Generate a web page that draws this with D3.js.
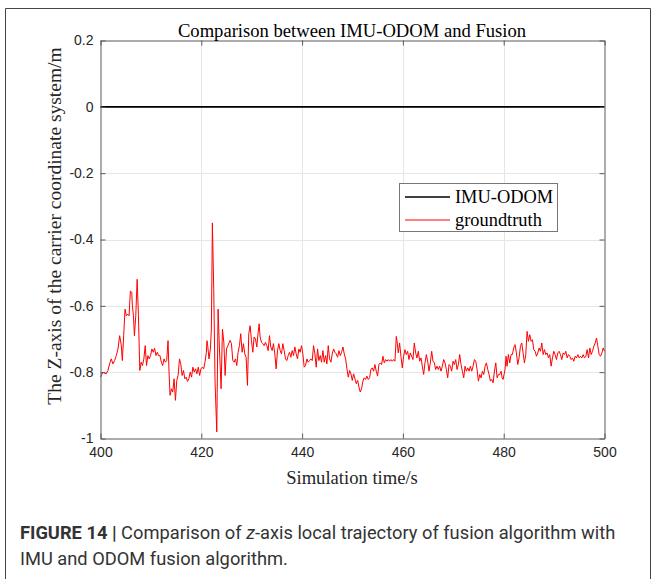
<!DOCTYPE html>
<html><head><meta charset="utf-8">
<script src="https://cdn.jsdelivr.net/npm/d3@7"></script>
<style>body{margin:0;background:#fff}svg{display:block}</style>
</head><body>
<svg id="c" width="656" height="579"></svg>
<script>
const xTicks = [400, 420, 440, 460, 480, 500];
const yTicks = [0.2, 0, -0.2, -0.4, -0.6, -0.8, -1];
const yTickLabels = ["0.2", "0", "-0.2", "-0.4", "-0.6", "-0.8", "-1"];
const seriesNames = ["IMU-ODOM", "groundtruth"];
const imuTime = [400, 500];
const imuValues = [0, 0];
const gtTime = [
400.0,400.47,401.13,401.47,401.8,402.13,402.47,402.8,403.13,403.47,403.8,404.13,404.33,404.6,404.87,405.13,405.4,405.67,405.93,406.2,406.33,406.53,406.73,407.0,407.27,407.53,407.8,408.07,408.33,408.6,408.87,409.13,409.4,409.67,409.93,410.2,410.47,410.73,411.0,411.27,411.53,411.8,412.07,412.33,412.6,412.87,413.13,413.4,413.6,413.8,414.07,414.33,414.6,414.87,415.13,415.4,415.67,415.93,416.2,416.47,416.73,417.0,417.27,417.53,417.8,418.07,418.33,418.6,418.87,419.13,419.4,419.67,419.93,420.2,420.47,420.73,421.0,421.13,421.27,421.53,421.8,422.0,422.2,422.47,422.73,423.07,423.33,423.6,423.93,424.2,424.47,424.73,425.0,425.27,425.72,425.98,426.25,426.51,426.78,427.04,427.3,427.57,427.83,428.1,428.36,428.63,428.89,429.16,429.42,429.69,429.95,430.22,430.48,430.75,431.01,431.28,431.48,431.67,431.94,432.2,432.47,432.73,433.0,433.26,433.53,433.79,434.06,434.32,434.59,434.85,435.12,435.38,435.65,435.91,436.18,436.44,436.71,436.97,437.24,437.5,437.77,438.03,438.3,438.56,438.83,439.09,439.36,439.62,439.89,440.15,440.42,440.68,440.95,441.21,441.48,441.74,442.01,442.27,442.54,442.8,443.07,443.33,443.6,443.86,444.13,444.39,444.66,444.92,445.19,445.45,445.72,445.98,446.25,446.51,446.78,447.04,447.31,447.57,447.84,448.1,448.37,448.63,448.9,449.16,449.43,449.69,449.96,450.22,450.49,450.75,451.02,451.28,451.54,451.8,452.07,452.33,452.6,452.86,453.13,453.39,453.65,453.92,454.18,454.45,454.71,454.98,455.24,455.51,455.77,456.04,456.3,456.57,456.83,457.1,457.36,457.63,457.89,458.16,458.42,458.69,458.88,459.08,459.35,459.61,459.88,460.14,460.41,460.67,460.94,461.2,461.47,461.73,462.0,462.26,462.53,462.79,463.06,463.32,463.59,463.85,464.12,464.38,464.65,464.91,465.18,465.44,465.71,465.97,466.24,466.5,466.77,467.03,467.3,467.56,467.83,468.09,468.36,468.62,468.89,469.15,469.42,469.68,469.95,470.21,470.48,470.74,471.01,471.27,471.54,471.8,472.07,472.33,472.6,472.86,473.13,473.39,473.66,473.92,474.19,474.45,474.72,474.98,475.25,475.51,475.78,476.04,476.31,476.57,476.84,477.1,477.37,477.63,477.9,478.16,478.43,478.69,478.96,479.21,479.48,479.68,479.88,480.07,480.27,480.47,480.67,480.93,481.2,481.46,481.73,481.99,482.26,482.52,482.79,483.05,483.32,483.58,483.85,484.11,484.38,484.64,484.91,485.17,485.44,485.7,485.97,486.23,486.5,486.76,487.03,487.29,487.56,487.82,488.09,488.35,488.61,488.88,489.14,489.41,489.67,489.94,490.2,490.47,490.73,491.0,491.26,491.53,491.79,492.06,492.32,492.59,492.85,493.12,493.38,493.65,493.91,494.18,494.44,494.71,494.97,495.24,495.5,495.77,496.03,496.3,496.56,496.83,497.09,497.36,497.62,497.89,498.15,498.42,498.68,498.95,499.21,499.48,499.74,500.0];
const gtValues = [
-0.815,-0.80,-0.805,-0.795,-0.775,-0.76,-0.775,-0.765,-0.75,-0.73,-0.69,-0.72,-0.765,-0.69,-0.61,-0.63,-0.625,-0.63,-0.555,-0.56,-0.60,-0.63,-0.69,-0.63,-0.52,-0.63,-0.795,-0.77,-0.78,-0.76,-0.72,-0.78,-0.75,-0.76,-0.75,-0.73,-0.74,-0.728,-0.75,-0.74,-0.75,-0.75,-0.77,-0.78,-0.76,-0.77,-0.765,-0.705,-0.80,-0.87,-0.85,-0.86,-0.82,-0.885,-0.825,-0.81,-0.76,-0.775,-0.81,-0.795,-0.82,-0.815,-0.828,-0.82,-0.80,-0.815,-0.785,-0.80,-0.79,-0.805,-0.785,-0.81,-0.79,-0.785,-0.79,-0.77,-0.74,-0.705,-0.72,-0.76,-0.73,-0.67,-0.35,-0.55,-0.83,-0.98,-0.61,-0.73,-0.85,-0.67,-0.71,-0.81,-0.73,-0.72,-0.704,-0.714,-0.765,-0.77,-0.76,-0.78,-0.74,-0.72,-0.684,-0.74,-0.714,-0.745,-0.755,-0.84,-0.684,-0.66,-0.704,-0.74,-0.694,-0.70,-0.724,-0.68,-0.654,-0.694,-0.71,-0.714,-0.72,-0.71,-0.72,-0.735,-0.69,-0.724,-0.735,-0.714,-0.745,-0.79,-0.735,-0.714,-0.735,-0.745,-0.714,-0.735,-0.76,-0.765,-0.75,-0.74,-0.755,-0.735,-0.75,-0.724,-0.745,-0.76,-0.73,-0.74,-0.72,-0.745,-0.785,-0.78,-0.76,-0.77,-0.765,-0.76,-0.765,-0.72,-0.745,-0.785,-0.73,-0.765,-0.75,-0.77,-0.735,-0.77,-0.75,-0.775,-0.72,-0.76,-0.77,-0.745,-0.73,-0.74,-0.745,-0.755,-0.735,-0.75,-0.74,-0.724,-0.745,-0.76,-0.79,-0.815,-0.795,-0.805,-0.825,-0.805,-0.82,-0.835,-0.825,-0.845,-0.86,-0.85,-0.827,-0.817,-0.822,-0.812,-0.822,-0.817,-0.792,-0.787,-0.797,-0.777,-0.797,-0.812,-0.777,-0.772,-0.777,-0.752,-0.772,-0.762,-0.767,-0.762,-0.767,-0.762,-0.767,-0.762,-0.767,-0.692,-0.712,-0.742,-0.712,-0.752,-0.787,-0.752,-0.732,-0.747,-0.737,-0.762,-0.742,-0.752,-0.762,-0.712,-0.742,-0.757,-0.737,-0.767,-0.757,-0.782,-0.807,-0.772,-0.747,-0.767,-0.797,-0.772,-0.737,-0.767,-0.772,-0.792,-0.782,-0.792,-0.782,-0.797,-0.782,-0.762,-0.772,-0.792,-0.817,-0.777,-0.782,-0.797,-0.767,-0.777,-0.762,-0.792,-0.777,-0.747,-0.777,-0.797,-0.817,-0.782,-0.797,-0.787,-0.797,-0.782,-0.797,-0.782,-0.762,-0.767,-0.792,-0.827,-0.807,-0.817,-0.797,-0.807,-0.782,-0.772,-0.792,-0.807,-0.827,-0.822,-0.832,-0.797,-0.772,-0.817,-0.807,-0.807,-0.797,-0.817,-0.822,-0.807,-0.792,-0.752,-0.782,-0.747,-0.772,-0.747,-0.747,-0.727,-0.717,-0.742,-0.777,-0.757,-0.722,-0.712,-0.742,-0.772,-0.747,-0.677,-0.707,-0.687,-0.707,-0.702,-0.732,-0.737,-0.752,-0.742,-0.727,-0.737,-0.712,-0.747,-0.732,-0.747,-0.742,-0.757,-0.747,-0.782,-0.757,-0.737,-0.747,-0.762,-0.742,-0.737,-0.747,-0.762,-0.742,-0.747,-0.737,-0.757,-0.747,-0.752,-0.762,-0.757,-0.767,-0.752,-0.757,-0.747,-0.757,-0.752,-0.757,-0.747,-0.757,-0.752,-0.732,-0.757,-0.727,-0.747,-0.737,-0.722,-0.712,-0.697,-0.722,-0.747,-0.752,-0.742,-0.727,-0.737];

const svg = d3.select("#c");
const L = 100.5, R = 604.5, T = 40.5, B = 438.5;
const x = d3.scaleLinear().domain([400, 500]).range([L, R]);
const y = d3.scaleLinear().domain([-1, 0.2]).range([B, T]);

// figure frame
svg.append("path").attr("d", `M5.5,579 V8.5 H650.5 V579`).attr("fill", "none").attr("stroke", "#444").attr("stroke-width", 1);

// grid
const g = svg.append("g");
g.selectAll(".gx").data(xTicks.slice(1, -1)).join("line")
  .attr("x1", d => Math.round(x(d)) + 0.5).attr("x2", d => Math.round(x(d)) + 0.5)
  .attr("y1", T).attr("y2", B).attr("stroke", "#e6e6e6").attr("stroke-width", 1);
g.selectAll(".gy").data(yTicks.slice(1, -1)).join("line")
  .attr("y1", d => Math.round(y(d)) + 0.5).attr("y2", d => Math.round(y(d)) + 0.5)
  .attr("x1", L).attr("x2", R).attr("stroke", "#e6e6e6").attr("stroke-width", 1);

// data lines
const line = d3.line().x(d => x(d[0])).y(d => y(d[1]));
svg.append("path").datum(gtTime.map((t, i) => [t, gtValues[i]]))
  .attr("d", line).attr("fill", "none").attr("stroke", "#ff0000").attr("stroke-width", 1).attr("stroke-linejoin", "round");
svg.append("path").datum(imuTime.map((t, i) => [t, imuValues[i]]))
  .attr("d", line).attr("fill", "none").attr("stroke", "#000").attr("stroke-width", 1.6);

// axes box with inward ticks (MATLAB style)
const axCol = "#5a5a5a";
const xAxB = d3.axisBottom(x).tickValues(xTicks).tickSizeInner(-5).tickSizeOuter(0).tickPadding(9);
const xAxT = d3.axisTop(x).tickValues(xTicks).tickSizeInner(-5).tickSizeOuter(0).tickFormat("");
const yAxL = d3.axisLeft(y).tickValues(yTicks).tickSizeInner(-5).tickSizeOuter(0).tickPadding(7).tickFormat((d, i) => yTickLabels[i]);
const yAxR = d3.axisRight(y).tickValues(yTicks).tickSizeInner(-5).tickSizeOuter(0).tickFormat("");
function style(sel) {
  sel.selectAll("path").attr("stroke", axCol).attr("stroke-width", 1);
  sel.selectAll("line").attr("stroke", axCol);
  sel.selectAll("text").attr("fill", "#262626").style("font-family", "Liberation Sans, Arial, sans-serif").style("font-size", "14px");
}
svg.append("g").attr("transform", `translate(0,${B})`).call(xAxB).call(style);
svg.append("g").attr("transform", `translate(0,${T})`).call(xAxT).call(style);
svg.append("g").attr("transform", `translate(${L},0)`).call(yAxL).call(style);
svg.append("g").attr("transform", `translate(${R},0)`).call(yAxR).call(style);

// titles
const serif = "Liberation Serif, Times New Roman, serif";
svg.append("text").attr("x", 352).attr("y", 37).attr("text-anchor", "middle")
  .style("font-family", serif).style("font-size", "18.6px").attr("fill", "#000")
  .text("Comparison between IMU-ODOM and Fusion");
svg.append("text").attr("x", 352).attr("y", 484).attr("text-anchor", "middle")
  .style("font-family", serif).style("font-size", "18.6px").attr("fill", "#262626")
  .text("Simulation time/s");
svg.append("text").attr("transform", `translate(61,226) rotate(-90)`).attr("text-anchor", "middle")
  .style("font-family", serif).style("font-size", "19.5px").attr("fill", "#262626")
  .text("The Z-axis of the carrier coordinate system/m");

// legend
const lg = svg.append("g");
lg.append("rect").attr("x", 399.5).attr("y", 183.5).attr("width", 158).attr("height", 48)
  .attr("fill", "#fff").attr("stroke", "#777").attr("stroke-width", 1);
const legColors = ["#000", "#ff0000"];
const legW = [1.6, 1];
seriesNames.forEach((n, i) => {
  const yy = 197 + i * 23;
  lg.append("line").attr("x1", 405).attr("x2", 450).attr("y1", yy).attr("y2", yy)
    .attr("stroke", legColors[i]).attr("stroke-width", legW[i]);
  lg.append("text").attr("x", 455).attr("y", yy + 6).style("font-family", serif).style("font-size", "18.4px")
    .attr("fill", "#000").text(n);
});

// caption
const cap = svg.append("g").style("font-family", "Roboto, sans-serif").style("font-size", "18.3px").attr("fill", "#333");
const t1 = cap.append("text").attr("x", 20).attr("y", 539);
t1.append("tspan").style("font-weight", "bold").text("FIGURE 14 | ");
t1.append("tspan").text("Comparison of ");
t1.append("tspan").style("font-style", "italic").text("z");
t1.append("tspan").text("-axis local trajectory of fusion algorithm with");
cap.append("text").attr("x", 20).attr("y", 565).text("IMU and ODOM fusion algorithm.");
</script>
</body></html>
